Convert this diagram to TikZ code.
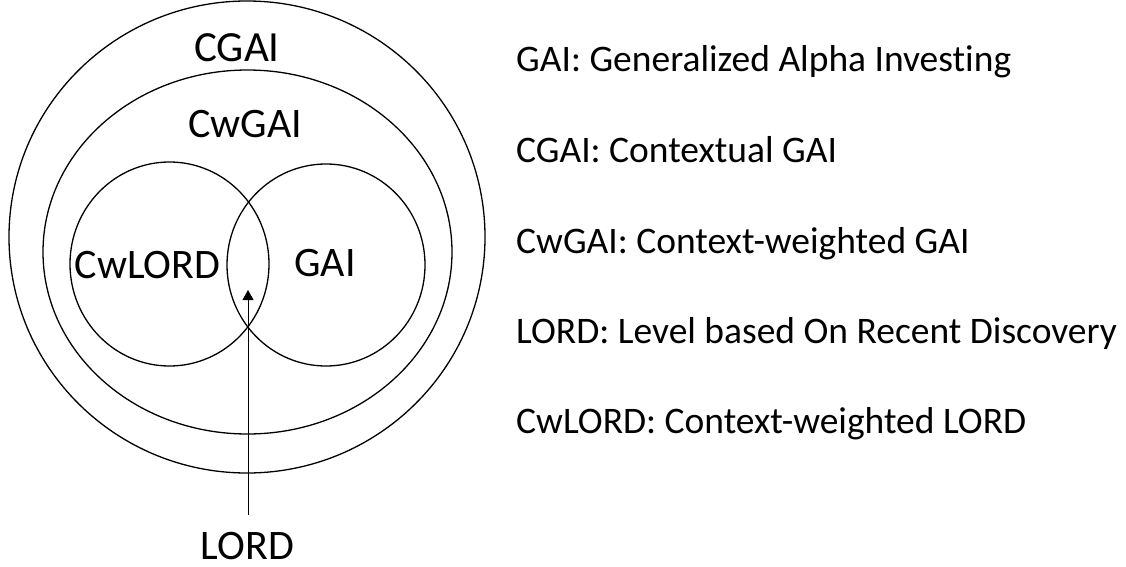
\documentclass[tikz,border=0pt]{standalone}
\usepackage{fontspec}
\setmainfont{Carlito}[Ligatures=NoCommon]
\usetikzlibrary{shapes.geometric,arrows.meta}
\begin{document}
\begin{tikzpicture}[x=1pt,y=-1pt,
  ring/.style={draw=black,line width=1.3pt,ellipse,inner sep=0pt},
  lbl/.style={inner sep=0pt,anchor=base,font=\fontsize{42}{50}\selectfont},
  bigl/.style={inner sep=0pt,anchor=base,font=\fontsize{43}{51}\selectfont},
  legend/.style={inner sep=0pt,anchor=base west,font=\fontsize{37.5}{45}\selectfont},
  pointer/.style={draw=black,line width=1pt,-{Triangle[length=10pt,width=11pt]}}]
\useasboundingbox (0,0) rectangle (1126,567);
% ellipses
\node[ring,minimum width=476pt,minimum height=472pt] (cgai) at (247,237) {};
\node[ring,minimum width=409pt,minimum height=364pt] (cwgai) at (247.5,252) {};
\node[ring,minimum width=199pt,minimum height=204pt] (cwlord) at (169.5,264) {};
\node[ring,minimum width=198pt,minimum height=202pt] (gai) at (326,265) {};
% labels
\node[bigl] (tcgai) at (237,62) {CGAI};
\node[lbl] (tcwgai) at (245,138) {CwGAI};
\node[lbl] (tcwlord) at (147.5,278) {CwLORD};
\node[lbl] (tgai) at (325,276) {GAI};
\node[lbl] (tlord) at (247.5,559) {LORD};
% arrow
\coordinate (arrowstart) at (248,515);
\coordinate (arrowtip) at (248,290);
\draw[pointer] (arrowstart) -- (arrowtip);
% legend
\node[legend] (l1) at (516,72) {GAI: Generalized Alpha Investing};
\node[legend] (l2) at (516,162) {CGAI: Contextual GAI};
\node[legend] (l3) at (516,253) {CwGAI: Context-weighted GAI};
\node[legend] (l4) at (516,343) {LORD: Level based On Recent Discovery};
\node[legend] (l5) at (516,433) {CwLORD: Context-weighted LORD};
\end{tikzpicture}
\end{document}
